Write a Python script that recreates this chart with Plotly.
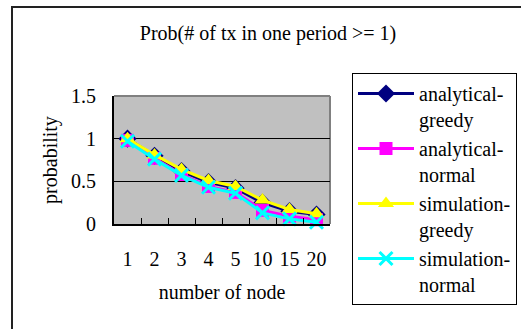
import plotly.graph_objects as go

# Number of nodes (categorical x axis)
nodes = ["1", "2", "3", "4", "5", "10", "15", "20"]

# Probability that at least one transmission happens in one period
analytical_greedy = [1.00, 0.80, 0.62, 0.49, 0.42, 0.25, 0.15, 0.11]
analytical_normal = [0.98, 0.77, 0.58, 0.44, 0.37, 0.16, 0.09, 0.05]
simulation_greedy = [1.00, 0.81, 0.64, 0.51, 0.44, 0.28, 0.17, 0.12]
simulation_normal = [0.97, 0.76, 0.57, 0.43, 0.36, 0.13, 0.06, 0.02]

y_ticks = [0, 0.5, 1, 1.5]
y_tick_text = ["0", "0.5", "1", "1.5"]

FONT = "Liberation Serif, Times New Roman, serif"
FS = 20

series = [
    ("analytical-<br>greedy", analytical_greedy, "#000080", "diamond", 14, 0),
    ("analytical-<br>normal", analytical_normal, "#FF00FF", "square", 13, 0),
    ("simulation-<br>greedy", simulation_greedy, "#FFFF00", "triangle-up", 14, 0),
    ("simulation-<br>normal", simulation_normal, "#00FFFF", "x-thin", 13, 3),
]

fig = go.Figure()
for i, (name, vals, color, symbol, size, mlw) in enumerate(series):
    marker = dict(symbol=symbol, size=size, color=color)
    if mlw:
        marker["line"] = dict(color=color, width=mlw)
    else:
        marker["line"] = dict(width=0)
    fig.add_trace(go.Scatter(
        x=nodes, y=vals, name=name, mode="lines+markers",
        line=dict(color=color, width=3),
        marker=marker, legendgroup=f"g{i}", cliponaxis=False,
    ))

L, R, T, B = 114, 191, 96, 105
W, H = 521, 329
pw, ph = W - L - R, H - T - B

def px_x(px):
    return (px - L) / pw

def px_y(py):
    return (H - B - py) / ph

fig.update_layout(
    width=W, height=H,
    margin=dict(l=L, r=R, t=T, b=B),
    paper_bgcolor="white",
    plot_bgcolor="#C0C0C0",
    font=dict(family=FONT, size=FS, color="black"),
    title=dict(text="Prob(# of tx in one period >= 1)", x=268 / W, y=1 - 33 / H,
               xref="container", yref="container", xanchor="center", yanchor="middle",
               font=dict(family=FONT, size=FS, color="black")),
    showlegend=True,
    legend=dict(
        x=352 / W, y=1 - 73 / H, xref="container", yref="container",
        xanchor="left", yanchor="top", maxheight=320,
        bgcolor="white", bordercolor="black", borderwidth=1,
        font=dict(family=FONT, size=FS, color="black"),
        valign="top", tracegroupgap=18, traceorder="normal", itemwidth=56,
    ),
    xaxis=dict(
        type="category", tickson="boundaries", ticks="inside", ticklen=6,
        tickcolor="black", tickwidth=1, showline=True, linecolor="black", linewidth=2,
        showgrid=False, ticklabelstandoff=16, tickangle=0,
        title=dict(text="number of node", standoff=16, font=dict(family=FONT, size=FS)),
        range=[-0.5, 7.5], fixedrange=True,
    ),
    yaxis=dict(
        range=[0, 1.5], tickvals=y_ticks, ticktext=y_tick_text,
        ticks="inside", ticklen=5, tickcolor="black", showline=True,
        linecolor="black", linewidth=2, showgrid=True, gridcolor="black", gridwidth=1,
        zeroline=False, ticklabelstandoff=12,
        title=dict(text="probability", standoff=8, font=dict(family=FONT, size=FS)),
    ),
    shapes=[
        # gray frame on top and right of the plot area
        dict(type="line", xref="paper", yref="paper", x0=0, x1=1, y0=1, y1=1,
             line=dict(color="#808080", width=2), layer="below"),
        dict(type="line", xref="paper", yref="paper", x0=1, x1=1, y0=0, y1=1,
             line=dict(color="#808080", width=2), layer="below"),
        # outer chart frame
        dict(type="rect", xref="paper", yref="paper",
             x0=px_x(12), x1=px_x(560), y0=px_y(7), y1=px_y(360),
             line=dict(color="#222222", width=2), fillcolor="rgba(0,0,0,0)"),
    ],
)

fig.write_html("out.html")
